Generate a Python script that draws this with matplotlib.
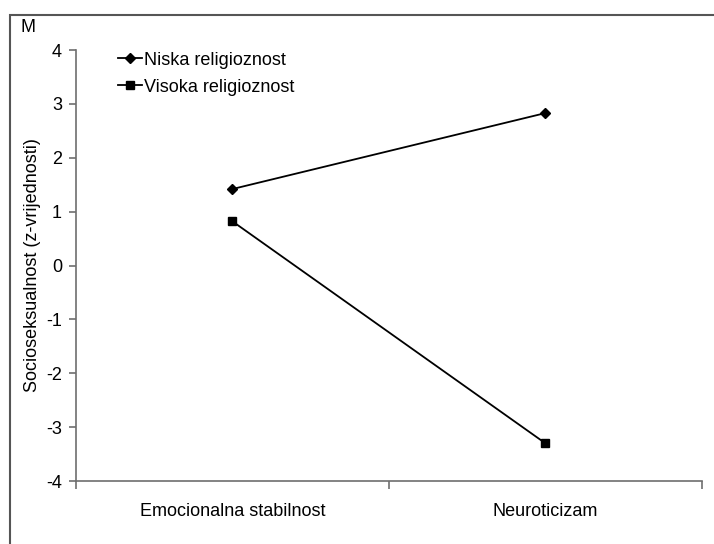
import matplotlib.pyplot as plt
from matplotlib.patches import Rectangle

# DATA
categories = ["Emocionalna stabilnost", "Neuroticizam"]
niska = [1.42, 2.83]
visoka = [0.82, -3.30]
series_labels = ["Niska religioznost", "Visoka religioznost"]
y_ticks = [-4, -3, -2, -1, 0, 1, 2, 3, 4]

plt.rcParams['font.family'] = ['Liberation Sans', 'DejaVu Sans']
axis_gray = '#6e6e6e'
fs = 13

fig = plt.figure(figsize=(7.14, 5.44), dpi=100)
ax = fig.add_axes([0.1064, 0.1158, 0.8766, 0.7922])

x = list(range(len(categories)))
ax.plot(x, niska, color='black', lw=1.3, marker='D', markersize=5, label=series_labels[0])
ax.plot(x, visoka, color='black', lw=1.3, marker='s', markersize=6, label=series_labels[1])

ax.set_xlim(-0.5, len(categories) - 0.5)
ax.set_ylim(-4, 4)
ax.set_yticks(y_ticks)
ax.set_yticklabels([str(t) for t in y_ticks], fontsize=fs)

# category axis: ticks between categories, labels centred
ax.set_xticks([-0.5, 0.5, 1.5])
ax.set_xticklabels([])
ax.set_xticks(x, minor=True)
ax.set_xticklabels(categories, minor=True, fontsize=fs)
ax.tick_params(axis='x', which='minor', length=0, pad=16)
ax.tick_params(axis='x', which='major', length=6, width=1.2, color=axis_gray, direction='out')
ax.tick_params(axis='y', length=5, width=1.2, color=axis_gray, direction='out', pad=5)

for s in ['top', 'right']:
    ax.spines[s].set_visible(False)
for s in ['left', 'bottom']:
    ax.spines[s].set_color(axis_gray)
    ax.spines[s].set_linewidth(1.2)

ax.set_ylabel("Socioseksualnost (z-vrijednosti)", fontsize=fs)
ax.yaxis.set_label_coords(-0.056, 0.5)

leg = ax.legend(loc='upper left', bbox_to_anchor=(0.056, 1.013), frameon=False,
                fontsize=fs, handlelength=1.3, handletextpad=0.1, labelspacing=0.55,
                borderaxespad=0)

fig.text(20 / 714, 1 - 28 / 544, "M", fontsize=fs, ha='left', va='center')

# outer frame like the exported chart area
fig.patches.append(Rectangle((10 / 714, -0.1), 1.2, 1 - 15 / 544 + 0.1,
                             transform=fig.transFigure, fill=False,
                             edgecolor='#555555', lw=1.5, clip_on=False))

fig.savefig("out.png", dpi=100)
